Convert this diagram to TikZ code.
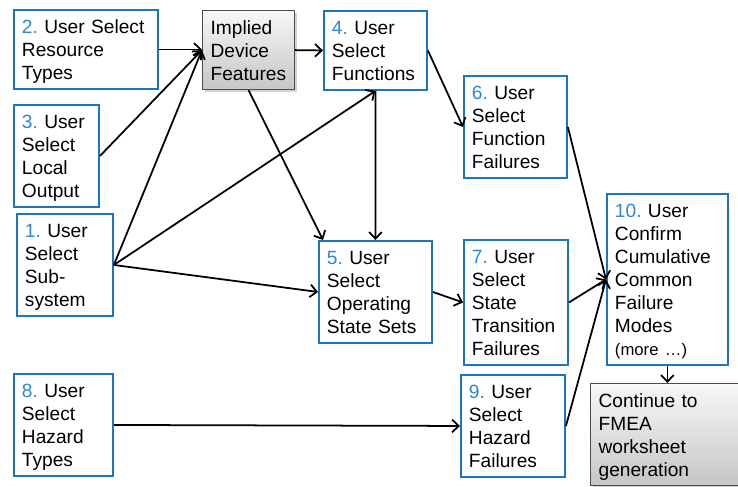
\documentclass[tikz,border=0pt]{standalone}
\usepackage{fontspec}
\setmainfont{Liberation Sans}
\usetikzlibrary{arrows.meta, calc, shadows}
\definecolor{cBOX}{HTML}{1A75C4}
\definecolor{cNUM}{HTML}{2F86D6}
\newcommand{\firststrut}{\rule{0pt}{13.09pt}}
\newcommand{\laststrut}{\rule[-4.55pt]{0pt}{0pt}}
\newcommand{\stepno}[1]{\textcolor{cNUM}{#1}}
\frenchspacing

\begin{document}
\begin{tikzpicture}[x=0.02cm, y=-0.02cm,
  basebox/.style={font=\fontsize{10.9}{13.09}\selectfont, align=left,
    anchor=north west, inner xsep=4.55pt, inner ysep=0.57pt,
    execute at begin node=\firststrut, execute at end node=\laststrut},
  stepbox/.style={basebox, draw=cBOX, line width=1.1pt, fill=white},
  graybox/.style={basebox, draw=black!70, line width=0.7pt,
    top color=gray!6, bottom color=gray!45,
    drop shadow={shadow xshift=1.2pt, shadow yshift=-1.2pt, opacity=0.35}},
  flow/.style={-{Straight Barb[length=3.8pt, width=7.2pt]}, line width=1pt}]
  \useasboundingbox (0,0) rectangle (738,487);

  % Steps, top row
  \node[stepbox, text width=72.8pt] (n2) at (13,9) {\stepno{2.} User Select\\Resource\\Types};
  \node[graybox, text width=43.2pt] (imp) at (202,10) {Implied\\Device\\Features};
  \node[stepbox, text width=49.5pt] (n4) at (323,10) {\stepno{4.} User\\Select\\Functions};
  \node[stepbox, text width=39.3pt] (n3) at (13,104) {\stepno{3.} User\\Select\\Local\\Output};
  \node[stepbox, text width=49.5pt] (n6) at (463,75) {\stepno{6.} User\\Select\\Function\\Failures};

  % Steps, middle row
  \node[stepbox, text width=45.5pt] (n1) at (16,213) {\stepno{1.} User\\Select\\Sub-\\system};
  \node[stepbox, text width=55.2pt] (n5) at (318,240) {\stepno{5.} User\\Select\\Operating\\State Sets};
  \node[stepbox, text width=50.1pt] (n7) at (463,239) {\stepno{7.} User\\Select\\State\\Transition\\Failures};
  \node[stepbox, text width=59.7pt] (n10) at (606,193) {\stepno{10.} User\\Confirm\\Cumulative\\Common\\Failure\\Modes\\{\fontsize{9.5}{13.09}\selectfont(more …)}};

  % Steps, bottom row
  \node[stepbox, text width=47.2pt] (n8) at (13,373) {\stepno{8.} User\\Select\\Hazard\\Types};
  \node[stepbox, text width=50.1pt] (n9) at (460,374) {\stepno{9.} User\\Select\\Hazard\\Failures};
  \node[graybox, text width=76.2pt] (cont) at (590,383) {Continue to\\FMEA\\worksheet\\generation};

  % Arrows
  \draw[flow] (n2.east) -- (n2.east -| imp.west);
  \draw[flow] (n3.east) -- (imp.west);
  \draw[flow] (n1.east) -- (imp.west);
  \draw[flow] (n1.east) -- (n4.south);
  \draw[flow] (n1.east) -- (n5.west);
  \draw[flow] (imp.south) -- ($(n5.north west)+(5,0)$);
  \draw[flow] (imp.east) -- (n4.west);
  \draw[flow] (n4.south) -- (n5.north);
  \draw[flow] (n4.east) -- (n6.west);
  \draw[flow] (n5.east) -- (n7.west);
  \draw[flow] (n6.east) -- (n10.west);
  \draw[flow] (n7.east) -- (n10.west);
  \draw[flow] (n9.east) -- (n10.west);
  \draw[flow] (n8.east) -- (n9.west);
  \draw[flow] (n10.south) -- (n10.south |- cont.north);
\end{tikzpicture}
\end{document}
